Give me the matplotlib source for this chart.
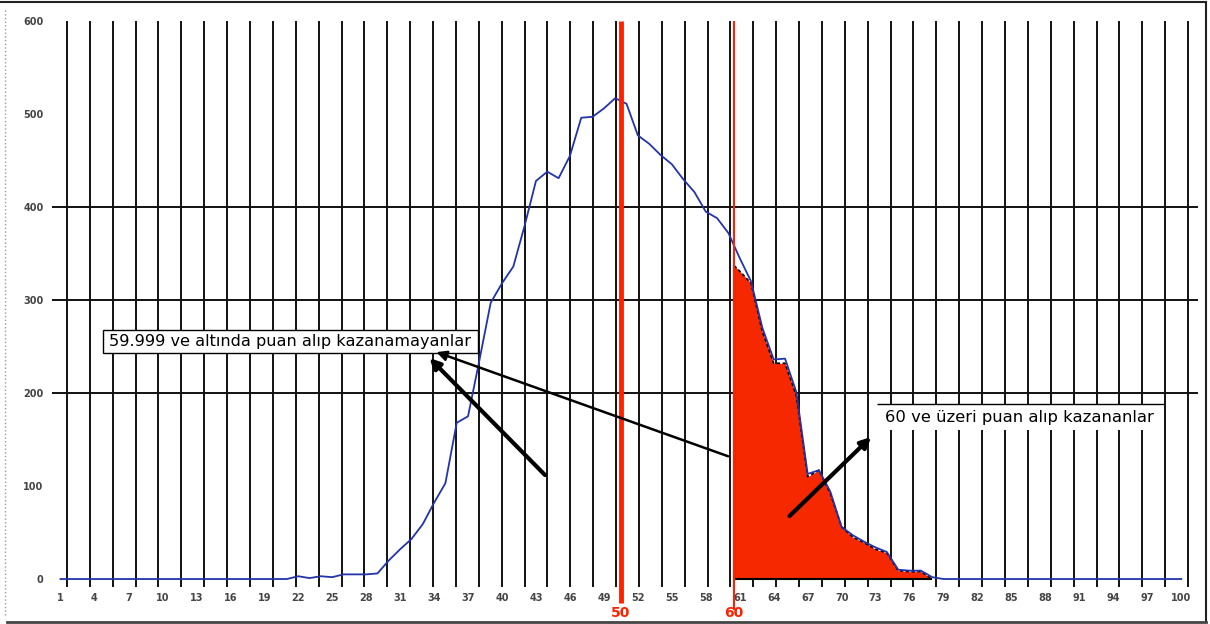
import numpy as np
import matplotlib
matplotlib.use("Agg")
import matplotlib.pyplot as plt
from matplotlib.patches import Rectangle
from matplotlib.lines import Line2D

# puanlar (kategori ekseni) ve her puandaki kişi sayısı
scores = np.arange(1, 101)
counts = ([0] * 21
          + [3, 1, 3, 2, 5, 5, 5, 6]
          + [20, 32, 43, 59, 82, 103, 168, 175, 235, 297, 318]
          + [336, 380, 428, 438, 431, 455, 496, 497, 506, 517,
             511, 477, 468, 456, 446, 430, 416, 395, 388, 372]
          + [345, 320, 270, 236, 237, 201, 113, 117, 94, 56,
             47, 40, 34, 29, 10, 9, 9, 2]
          + [0] * 22)

# 60 ve üzeri (kırmızı alan)
win_scores = [60.5] + list(range(61, 79))
win_counts = [337, 331, 318, 266, 232, 232, 197, 110, 117, 92,
              56, 45, 39, 32, 28, 9, 8, 8, 0]

xtick_labels = list(range(1, 101, 3))
ytick_values = list(range(0, 601, 100))
hgrid_values = [200, 300, 400]
thresholds = [50, 60]
threshold_pos = [50.5, 60.5]

label_lose = "59.999 ve altında puan alıp kazanamayanlar"
label_win = "60 ve üzeri puan alıp kazananlar"

W, H = 1210, 624
fig = plt.figure(figsize=(W / 100, H / 100), dpi=100)
ax = fig.add_axes([52 / W, 1 - 590 / H, (1198 - 52) / W, (590 - 21) / H])
ax.set_xlim(0.249, 101.48)
ax.set_ylim(-11.8, 600)
for s in ax.spines.values():
    s.set_visible(False)

# grid (vertical lines every ~2 categories, horizontal only 200-400)
grid_x = np.linspace(1.57, 100.6, 50)
ax.vlines(grid_x, -9, 600, color="#111111", lw=1.4, zorder=1)
ax.hlines(hgrid_values, 0.249, 101.48, color="#111111", lw=1.4, zorder=1)

# red area for winners
ax.fill_between(win_scores, win_counts, 0, color="#f52800", lw=0, zorder=3)
ax.plot(win_scores, win_counts, color="black", lw=1.2, dashes=(2, 1.5), zorder=3.5)
ax.vlines(win_scores[0], 0, win_counts[0], color="black", lw=1.5, zorder=3.5)
ax.hlines(0, win_scores[0], win_scores[-1], color="black", lw=1.5, zorder=3.5)

# main distribution line
ax.plot(scores, counts, color="#2234a8", lw=1.3, zorder=5)

# threshold lines
ax.vlines(threshold_pos[0], -26, 600, color="#ff2200", lw=3.5, zorder=6, clip_on=False)
ax.vlines(threshold_pos[1], -33, 600, color="#ff2200", lw=1.5, zorder=6, clip_on=False)
for t, p in zip(thresholds, threshold_pos):
    ax.text(p, -37, str(t), color="#ff2200", fontsize=10, fontweight="bold",
            ha="center", va="center", clip_on=False)

# ticks
ax.set_xticks(xtick_labels)
ax.set_yticks(ytick_values)
ax.tick_params(axis="x", length=0, pad=2, labelsize=7, labelcolor="#454545")
ax.tick_params(axis="y", length=0, pad=6, labelsize=7, labelcolor="#454545")
for lbl in ax.get_xticklabels() + ax.get_yticklabels():
    lbl.set_fontweight("bold")

# text boxes
ax.add_patch(Rectangle((4.75, 243), 33.15, 24.7, fc="white", ec="black", lw=1, zorder=7))
ax.text(21.3, 255.4, label_lose, fontsize=11.6, ha="center", va="center", zorder=8)

ax.add_patch(Rectangle((73.1, 160.2), 25.4, 28, fc="white", ec="none", zorder=7))
ax.hlines(188.2, 73.1, 98.5, color="black", lw=1, zorder=7.5)
ax.text(85.7, 174.2, label_win, fontsize=11.8, ha="center", va="center", zorder=8)

# arrows
arrow_kw = dict(arrowstyle="-|>", color="black", shrinkA=0, shrinkB=0, mutation_scale=15)
ax.annotate("", xy=(33.6, 237.6), xytext=(43.8, 111.8),
            arrowprops=dict(lw=3, **arrow_kw), zorder=9)
ax.annotate("", xy=(34.2, 244), xytext=(59.97, 132),
            arrowprops=dict(lw=1.8, **arrow_kw), zorder=9)
ax.annotate("", xy=(72.6, 152.7), xytext=(65.4, 67.7),
            arrowprops=dict(lw=3, **arrow_kw), zorder=9)

# outer frame
fig.add_artist(Line2D([0, 1206 / W], [1 - 1.5 / H] * 2, color="#222222", lw=1.5))
fig.add_artist(Line2D([1206 / W] * 2, [1 - 1.5 / H, 1 - 621.5 / H], color="#222222", lw=1.5))
fig.add_artist(Line2D([7 / W, 1206 / W], [1 - 621.5 / H] * 2, color="#444444", lw=2))
fig.add_artist(Line2D([5 / W] * 2, [1 - 10 / H, 1 - 615 / H], color="#999999", lw=1, ls=":"))

fig.savefig("out.png", dpi=100)
